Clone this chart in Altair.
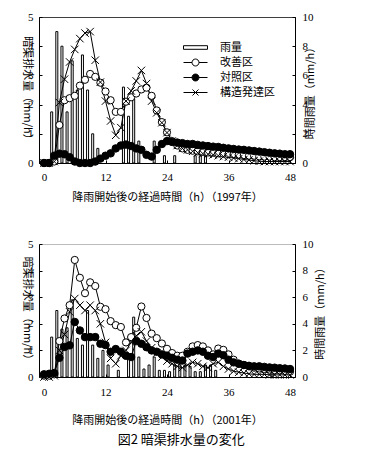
import altair as alt
import pandas as pd

# ---------------- data ----------------
HOURS = list(range(49))
RAIN_T = [h + 0.5 for h in range(48)]
X_TICKS = [0, 12, 24, 36, 48]
Y_LEFT_TICKS = [0, 1, 2, 3, 4, 5]
Y_RIGHT_TICKS = [0, 2, 4, 6, 8, 10]
SERIES = ["改善区", "対照区", "構造発達区"]
LEGEND_LABELS = ["雨量", "改善区", "対照区", "構造発達区"]

rain_1997 = [0, 3.5, 9.0, 8.0, 3.5, 7.0, 5.0, 7.4, 5.0, 2.0, 1.0, 0, 0, 0, 0, 5.2,
             3.2, 4.4, 1.5, 0, 0, 1.5, 0, 0.5, 0, 0.5, 0, 0, 0, 0.5, 0.5, 0.5,
             0, 0, 0, 0, 0, 0, 0, 0, 0, 0, 0, 0, 0, 0, 0, 0]
kaizen_1997 = [0, 0, 0.05, 1.3, 2.15, 2.22, 2.3, 2.65, 2.85, 3.05, 2.95, 2.75, 2.45,
               2.15, 1.75, 1.75, 2.1, 2.25, 2.38, 2.52, 2.58, 2.3, 1.8, 1.4, 1.05,
               0.75, 0.6, 0.5, 0.45, 0.42, 0.4, 0.38, 0.36, 0.35, 0.33, 0.32, 0.3,
               0.3, 0.28, 0.27, 0.25, 0.25, 0.23, 0.22, 0.22, 0.2, 0.2, 0.2, 0.2]
taisho_1997 = [0, 0, 0.25, 0.32, 0.3, 0.2, 0.05, 0, 0, 0, 0.05, 0.15, 0.25, 0.33,
               0.5, 0.6, 0.63, 0.58, 0.5, 0.45, 0.28, 0.22, 0.45, 0.65, 0.75, 0.72,
               0.7, 0.68, 0.65, 0.65, 0.62, 0.6, 0.58, 0.56, 0.55, 0.52, 0.5, 0.48,
               0.46, 0.45, 0.43, 0.41, 0.39, 0.37, 0.35, 0.33, 0.32, 0.3, 0.3]
kozo_1997 = [0, 0, 0.05, 2.07, 2.87, 3.46, 3.89, 4.26, 4.45, 4.5, 3.52, 2.77, 2.12,
             1.44, 0.95, 1.21, 2.12, 2.47, 2.81, 3.17, 2.72, 2.12, 1.72, 1.38, 1.04,
             0.75, 0.6, 0.5, 0.45, 0.4, 0.35, 0.32, 0.3, 0.28, 0.25, 0.22, 0.2,
             0.17, 0.15, 0.12, 0.1, 0.08, 0.06, 0.05, 0.05, 0.05, 0.05, 0.05, 0.05]

rain_2001 = [0, 3.0, 5.0, 3.6, 3.7, 5.8, 2.9, 2.4, 5.0, 2.4, 1.4, 2.0, 0.9, 0, 0.5, 0,
             1.4, 4.5, 1.5, 0.6, 0.9, 1.5, 0.5, 0.5, 0.4, 0.9, 1.0, 0.9, 0.8, 0.4,
             0.4, 0.9, 0.9, 0.5, 0, 0, 0, 0, 0, 0, 0, 0, 0, 0, 0.6, 0, 0, 0]
kaizen_2001 = [0.05, 0.05, 0.1, 1.35, 2.2, 2.7, 4.4, 3.73, 3.15, 3.56, 3.42, 2.64,
               2.55, 2.1, 1.95, 1.88, 1.3, 1.5, 1.85, 2.65, 2.22, 1.63, 1.46, 1.26,
               1.06, 0.9, 0.8, 0.8, 0.95, 1.15, 1.2, 1.15, 1.0, 0.85, 1.07, 1.02,
               0.85, 0.65, 0.5, 0.45, 0.4, 0.35, 0.32, 0.3, 0.28, 0.26, 0.25, 0.22, 0.2]
taisho_2001 = [0.1, 0.12, 0.15, 0.72, 1.13, 1.19, 2.07, 1.75, 1.5, 1.5, 1.5, 1.25, 1.2,
               0.95, 1.05, 0.95, 0.8, 0.75, 1.35, 1.25, 1.12, 1.0, 0.95, 0.85, 0.8,
               0.72, 0.65, 0.62, 0.88, 0.95, 1.0, 0.95, 0.8, 0.75, 0.88, 0.82, 0.65,
               0.55, 0.5, 0.45, 0.42, 0.4, 0.4, 0.38, 0.36, 0.35, 0.33, 0.32, 0.3]
kozo_2001 = [0.0, 0.0, 0.05, 1.0, 1.6, 2.45, 2.95, 2.7, 2.5, 2.7, 2.5, 2.0, 1.3, 0.7,
             0.5, 0.8, 1.0, 1.3, 1.55, 1.7, 1.35, 1.1, 0.9, 0.75, 0.6, 0.5, 0.4, 0.35,
             0.45, 0.55, 0.5, 0.4, 0.35, 0.5, 0.55, 0.4, 0.3, 0.22, 0.18, 0.15, 0.12,
             0.1, 0.1, 0.1, 0.08, 0.08, 0.08, 0.08, 0.08]

# ---------------- styling ----------------
JP = "Noto Sans CJK JP"
NUM = "Liberation Serif"
CROSS = "M-1,-1L1,1M-1,1L1,-1"
LEGEND_PATHS = [
    "M-1,-0.15L1,-0.15L1,0.15L-1,0.15Z",
    "M-1,0L-0.29,0M0.29,0L1,0M-0.29,0A0.29,0.29,0,1,0,0.29,0A0.29,0.29,0,1,0,-0.29,0Z",
    "M-1,0L-0.29,0M0.29,0L1,0M-0.29,0A0.29,0.29,0,1,0,0.29,0A0.29,0.29,0,1,0,-0.29,0Z",
    "M-1,0L1,0M-0.25,-0.25L0.25,0.25M-0.25,0.25L0.25,-0.25",
]
LEGEND_FILLS = ["white", "white", "black", "white"]
LEGEND_STROKES = ["black", "black", "black", "black"]
INWARD = {"expr": "-3"}


def make_panel(rain, kaizen, taisho, kozo, year, h, leg_x, leg_y, clip_h, sym_w,
               sym_off, lab_off, view_stroke, view_dash, xlab_pad, xtitle_pad, rtitle_pad):
    rain_df = pd.DataFrame({"t": RAIN_T, "rain": rain})
    rows = []
    for name, vals in zip(SERIES, [kaizen, taisho, kozo]):
        for t, v in zip(HOURS, vals):
            rows.append({"t": t, "v": v, "series": name})
    line_df = pd.DataFrame(rows)

    x_enc = alt.X("t:Q", scale=alt.Scale(domain=[0, 48], nice=False, zero=False),
                  axis=alt.Axis(values=X_TICKS, title=f"降雨開始後の経過時間（h）（{year}年）",
                                labelFlush=False, tickSize=INWARD, labelPadding=xlab_pad,
                                titlePadding=xtitle_pad))
    y_left = alt.Y("v:Q", scale=alt.Scale(domain=[0, 5], nice=False),
                   axis=alt.Axis(orient="left", values=Y_LEFT_TICKS, title="暗渠排水量（mm/h）",
                                 tickSize=INWARD, labelPadding=9, titlePadding=6,
                                 titleAngle=90))
    y_right = alt.Y("rain:Q", scale=alt.Scale(domain=[0, 10], nice=False),
                    axis=alt.Axis(orient="right", values=Y_RIGHT_TICKS, title="時間雨量（mm/h）",
                                  tickSize=INWARD, labelPadding=10, titlePadding=rtitle_pad,
                                  titleAngle=270))

    bars = alt.Chart(rain_df).transform_filter("datum.rain > 0").mark_bar(
        size=2, fill="white", stroke="black", strokeWidth=1
    ).encode(x=x_enc, y=y_right)

    base = alt.Chart(line_df).encode(x=x_enc, y=y_left)
    lines = base.mark_line(color="black", strokeWidth=1).encode(detail="series:N")
    p_kozo = base.transform_filter(alt.datum.series == "構造発達区").mark_point(
        shape=CROSS, filled=False, stroke="black", strokeWidth=1, size=56, opacity=1)
    p_taisho = base.transform_filter(alt.datum.series == "対照区").mark_point(
        shape="circle", filled=True, fill="black", stroke="black", strokeWidth=1, size=56, opacity=1)
    p_kaizen = base.transform_filter(alt.datum.series == "改善区").mark_point(
        shape="circle", filled=True, fill="white", stroke="black", strokeWidth=1, size=52, opacity=1)

    leg = alt.Legend(orient="none", legendX=leg_x, legendY=leg_y, title=None, padding=0,
                     labelFont=JP, labelFontSize=11, labelColor="black",
                     labelOffset=lab_off, symbolOffset=sym_off,
                     clipHeight=clip_h, rowPadding=2, symbolOpacity=1,
                     symbolStrokeWidth=1, symbolSize=sym_w * sym_w, labelLimit=0)
    legend_df = pd.DataFrame({"series": LEGEND_LABELS})
    legend_layer = alt.Chart(legend_df).mark_point(
        filled=True, opacity=0, size=sym_w * sym_w, strokeWidth=1
    ).encode(
        shape=alt.Shape("series:N", sort=LEGEND_LABELS,
                        scale=alt.Scale(domain=LEGEND_LABELS, range=LEGEND_PATHS), legend=leg),
        fill=alt.Fill("series:N", sort=LEGEND_LABELS,
                      scale=alt.Scale(domain=LEGEND_LABELS, range=LEGEND_FILLS), legend=leg),
        stroke=alt.Stroke("series:N", sort=LEGEND_LABELS,
                          scale=alt.Scale(domain=LEGEND_LABELS, range=LEGEND_STROKES), legend=leg),
    )

    left_group = alt.layer(lines, p_kaizen, p_taisho, p_kozo, legend_layer)
    view = alt.ViewBackground(stroke=view_stroke, strokeWidth=1, strokeDash=view_dash, fill="white")
    return alt.layer(bars, left_group).resolve_scale(y="independent").properties(
        width=256, height=h, view=view)


panel1 = make_panel(rain_1997, kaizen_1997, taisho_1997, kozo_1997, 1997, 146,
                    138, 24, 13, 24, 6, 12, "black", [1, 0], 11, 9, 2)
panel2 = make_panel(rain_2001, kaizen_2001, taisho_2001, kozo_2001, 2001, 133,
                    143, 26, 14, 26, 7, 16, "#777777", [1, 1], 12, 17, 12)

chart = alt.vconcat(panel1, panel2, spacing=34).properties(
    title=alt.TitleParams("図2 暗渠排水量の変化", orient="bottom", anchor="middle",
                          font=JP, fontSize=13, fontWeight="normal", color="black",
                          offset=8, dx=8),
    padding={"left": 13, "top": 2, "right": 5, "bottom": 5},
).configure_axis(
    domainColor="black", tickColor="black", labelColor="black", titleColor="black",
    grid=False, labelFont=NUM, labelFontSize=11, titleFont=JP, titleFontSize=11,
    titleFontWeight="normal", domainWidth=1, tickWidth=1,
).configure_view(stroke="black")

chart.save("out.html", embed_options={"renderer": "svg", "actions": False})
